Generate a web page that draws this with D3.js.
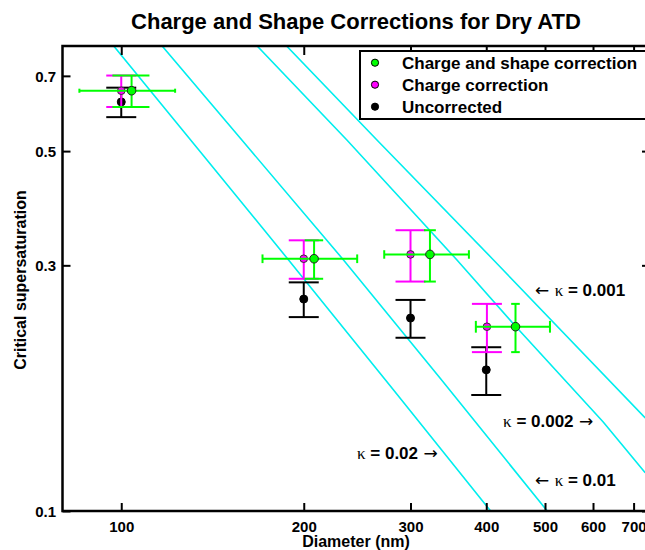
<!DOCTYPE html>
<html><head><meta charset="utf-8">
<script src="https://cdn.jsdelivr.net/npm/d3@7"></script>
<style>
body{margin:0;background:#fff}
svg text{font-family:"Liberation Sans",Arial,Helvetica,sans-serif;font-weight:bold;fill:#000}
</style>
</head><body><svg id="c" width="645" height="550"></svg>
<script>
// ---------- data ----------
const uncorrD = [100, 200, 300, 400];
const uncorrS = [0.623, 0.258, 0.237, 0.188];
const uncorrErr = [0.041, 0.020, 0.020, 0.020];

const chargeD = [100, 200, 300, 401];
const chargeS = [0.655, 0.309, 0.315, 0.228];
const chargeErr = [0.046, 0.0265, 0.036, 0.0245];

const shapeD = [104, 208, 323, 447];
const shapeS = [0.655, 0.309, 0.315, 0.228];
const shapeErrY = [0.046, 0.0265, 0.036, 0.0245];
const shapeErrX = [18.7, 37, 51.5, 62.5];

const kappaValues = ["0.02", "0.01", "0.002", "0.001"];
const kappaLineD = [
  [97.1, 135.0, 188.8, 281.3, 406.1],
  [116.7, 158.1, 232.6, 335.8, 503.6],
  [167.4, 235.6, 357.9, 446.7, 623.7, 731.6],
  [187.2, 264.1, 411.2, 731.6]
];
const kappaLineS = [
  [0.801, 0.4985, 0.3073, 0.1718, 0.1002],
  [0.801, 0.5253, 0.3073, 0.181, 0.1002],
  [0.801, 0.5253, 0.3073, 0.2287, 0.1489, 0.1186],
  [0.801, 0.5253, 0.3073, 0.1516]
];
const kappaLabelD = [244.8, 481.4, 426.4, 481.4];
const kappaLabelS = [0.1262, 0.1116, 0.1456, 0.2616];
const kappaArrowSide = ["right", "left", "right", "left"];

const xTicks = [100, 200, 300, 400, 500, 600, 700];
const yTicks = [0.1, 0.3, 0.5, 0.7];
const legendLabels = ["Charge and shape correction", "Charge correction", "Uncorrected"];
const titleText = "Charge and Shape Corrections for Dry ATD";
const xLabel = "Diameter (nm)";
const yLabel = "Critical supersaturation";

// ---------- styles ----------
const GREEN = "#00ff00", MAGENTA = "#ff00ff", BLACK = "#000000", CYAN = "#00eeee";
const capPx = 15;          // tee half-width for black / magenta bars (px)
const greenTeeX = 7.3;     // tee half-width for green vertical bars (nm)
const greenTeeY = 0.006;   // tee half-height for green horizontal bars

const svg = d3.select("#c");
const x = d3.scaleLog().domain([80, 745]).range([62.5, 650]);
const y = d3.scaleLog().domain([0.1, 0.8]).range([511, 46]);
const [x0, x1] = x.range(), [y0, y1] = y.range();

svg.append("defs").append("clipPath").attr("id", "plotclip")
  .append("rect").attr("x", x0).attr("y", y1).attr("width", x1 - x0).attr("height", y0 - y1);

// kappa lines
const line = d3.line().x(d => x(d[0])).y(d => y(d[1]));
const kg = svg.append("g").attr("clip-path", "url(#plotclip)");
kappaLineD.forEach((ds, i) => {
  const pts = ds.map((d, j) => [d, kappaLineS[i][j]]);
  kg.append("path").attr("d", line(pts)).attr("fill", "none")
    .attr("stroke", CYAN).attr("stroke-width", 1.6);
});

// kappa labels
kappaValues.forEach((k, i) => {
  const t = svg.append("text").attr("x", x(kappaLabelD[i])).attr("y", y(kappaLabelS[i]))
    .attr("font-size", 17);
  if (kappaArrowSide[i] === "left") {
    t.append("tspan").attr("font-weight", "normal").attr("font-family", "DejaVu Sans").text("\u2190 ");
  }
  t.append("tspan").attr("font-weight", "normal").attr("font-family", "Liberation Serif").text("\u03BA");
  t.append("tspan").text(" = " + k);
  if (kappaArrowSide[i] === "right") {
    t.append("tspan").attr("font-weight", "normal").attr("font-family", "DejaVu Sans").text(" \u2192");
  }
});

// axes frame and ticks
const axFrame = svg.append("g");
axFrame.append("rect").attr("x", x0).attr("y", y1).attr("width", x1 - x0).attr("height", y0 - y1)
  .attr("fill", "none").attr("stroke", "#000").attr("stroke-width", 2.5);

function styleAxis(g) {
  g.select(".domain").remove();
  g.attr("font-family", null).attr("font-size", null);
  g.selectAll(".tick line").attr("stroke", "#000").attr("stroke-width", 2);
}
const gBottom = svg.append("g").attr("transform", `translate(0,${y0})`)
  .call(d3.axisBottom(x).tickValues(xTicks).tickFormat(d3.format("d")).tickSize(-8).tickPadding(0));
styleAxis(gBottom);
gBottom.selectAll(".tick text").attr("y", 20.5).attr("dy", null).attr("font-size", 15);

const gTop = svg.append("g").attr("transform", `translate(0,${y1})`)
  .call(d3.axisTop(x).tickValues(xTicks).tickFormat("").tickSize(-9));
styleAxis(gTop);

const gLeft = svg.append("g").attr("transform", `translate(${x0},0)`)
  .call(d3.axisLeft(y).tickValues(yTicks).tickFormat(d3.format(".1f")).tickSize(-8).tickPadding(0));
styleAxis(gLeft);
gLeft.selectAll(".tick text").attr("x", -6.5).attr("dy", null).attr("y", 5.5).attr("font-size", 15);

const gRight = svg.append("g").attr("transform", `translate(${x1},0)`)
  .call(d3.axisRight(y).tickValues(yTicks).tickFormat("").tickSize(-8));
styleAxis(gRight);

// series drawing
function vErr(g, xd, s, e, xl, xr) {
  const xp = x(xd), ya = y(s + e), yb = y(s - e);
  g.append("line").attr("x1", xp).attr("x2", xp).attr("y1", ya).attr("y2", yb);
  g.append("line").attr("x1", xl).attr("x2", xr).attr("y1", ya).attr("y2", ya);
  g.append("line").attr("x1", xl).attr("x2", xr).attr("y1", yb).attr("y2", yb);
}
function series(D, S, E, color, edge, r) {
  const g = svg.append("g").attr("stroke", color).attr("stroke-width", 2);
  D.forEach((d, i) => vErr(g, d, S[i], E[i], x(d) - capPx, x(d) + capPx));
  const m = svg.append("g");
  D.forEach((d, i) => m.append("circle").attr("cx", x(d)).attr("cy", y(S[i])).attr("r", r)
    .attr("fill", color).attr("stroke", edge).attr("stroke-width", 1));
}
series(uncorrD, uncorrS, uncorrErr, BLACK, BLACK, 4);
series(chargeD, chargeS, chargeErr, MAGENTA, "#333", 3.8);

// green: x and y error bars
{
  const g = svg.append("g").attr("stroke", GREEN).attr("stroke-width", 2);
  shapeD.forEach((d, i) => {
    vErr(g, d, shapeS[i], shapeErrY[i], x(d - greenTeeX), x(d + greenTeeX));
    const yp = y(shapeS[i]), xa = x(d - shapeErrX[i]), xb = x(d + shapeErrX[i]);
    const ta = y(shapeS[i] + greenTeeY), tb = y(shapeS[i] - greenTeeY);
    g.append("line").attr("x1", xa).attr("x2", xb).attr("y1", yp).attr("y2", yp);
    g.append("line").attr("x1", xa).attr("x2", xa).attr("y1", ta).attr("y2", tb);
    g.append("line").attr("x1", xb).attr("x2", xb).attr("y1", ta).attr("y2", tb);
  });
  shapeD.forEach((d, i) => svg.append("circle").attr("cx", x(d)).attr("cy", y(shapeS[i])).attr("r", 4.3)
    .attr("fill", GREEN).attr("stroke", "#222").attr("stroke-width", 1));
}

// legend
const lg = svg.append("g");
lg.append("rect").attr("x", 360).attr("y", 51).attr("width", 300).attr("height", 68)
  .attr("fill", "#fff").attr("stroke", "#000").attr("stroke-width", 2);
const legColors = [GREEN, MAGENTA, BLACK];
legendLabels.forEach((l, i) => {
  const cy = 62.7 + i * 22;
  lg.append("circle").attr("cx", 375).attr("cy", cy).attr("r", 3.6)
    .attr("fill", legColors[i]).attr("stroke", "#000").attr("stroke-width", 1);
  lg.append("text").attr("x", 402).attr("y", cy + 6).attr("font-size", 17).text(l);
});

// titles
svg.append("text").attr("x", 356).attr("y", 29).attr("text-anchor", "middle")
  .attr("font-size", 22).text(titleText);
svg.append("text").attr("x", 356).attr("y", 547).attr("text-anchor", "middle")
  .attr("font-size", 16).text(xLabel);
svg.append("text").attr("transform", "translate(26,280) rotate(-90)").attr("text-anchor", "middle")
  .attr("font-size", 16).text(yLabel);
</script>
</body></html>
